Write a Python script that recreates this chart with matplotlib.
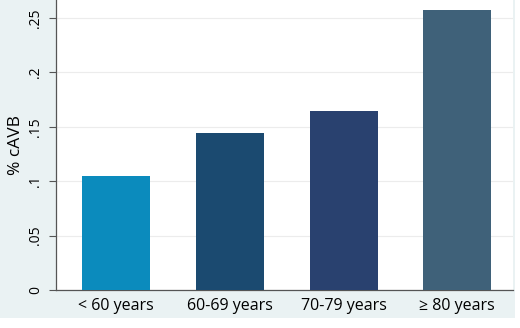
import matplotlib
matplotlib.use("Agg")
import matplotlib.pyplot as plt
from matplotlib.patches import Rectangle

groups = ["< 60 years", "60-69 years", "70-79 years", "\u2265 80 years"]
cavb = [0.105, 0.144, 0.1645, 0.257]
colors = ["#0b8bbd", "#1b4a70", "#29416f", "#3f6179"]
yticks = [0, 0.05, 0.1, 0.15, 0.2, 0.25]
ytick_labels = ["0", ".05", ".1", ".15", ".2", ".25"]

plt.rcParams['font.family'] = ['Open Sans', 'DejaVu Sans']

fig = plt.figure(figsize=(5.2, 3.28), dpi=100, facecolor="white")
# stata style outer panel, behind the axes
fig.patches.append(Rectangle((0, 10 / 328), 515 / 520, 318 / 328,
                             transform=fig.transFigure, facecolor="#eaf2f3",
                             edgecolor="none", zorder=-10))

ax = fig.add_axes([56 / 520, 38 / 328, 457 / 520, 290 / 328])
ax.set_facecolor("white")

ax.bar(range(len(groups)), cavb, width=0.6, color=colors, zorder=3)

ax.set_xlim(-0.53, 3.49)
ax.set_ylim(0, 0.2665)
ax.set_yticks(yticks)
ax.set_yticklabels(ytick_labels, rotation=90, va="center", fontsize=10)
ax.set_xticks(range(len(groups)))
ax.set_xticklabels(groups, fontsize=11.5)
ax.tick_params(axis="x", length=0, pad=6)
ax.tick_params(axis="y", length=5, color="#555555", pad=4)
ax.set_ylabel("% cAVB", fontsize=12.5, labelpad=3)

ax.yaxis.grid(True, color="#ececec", linewidth=0.8, zorder=0)
ax.set_axisbelow(True)
for s in ["top", "right"]:
    ax.spines[s].set_visible(False)
for s in ["left", "bottom"]:
    ax.spines[s].set_color("#555555")
    ax.spines[s].set_linewidth(0.9)

fig.savefig("out.png", dpi=100)
